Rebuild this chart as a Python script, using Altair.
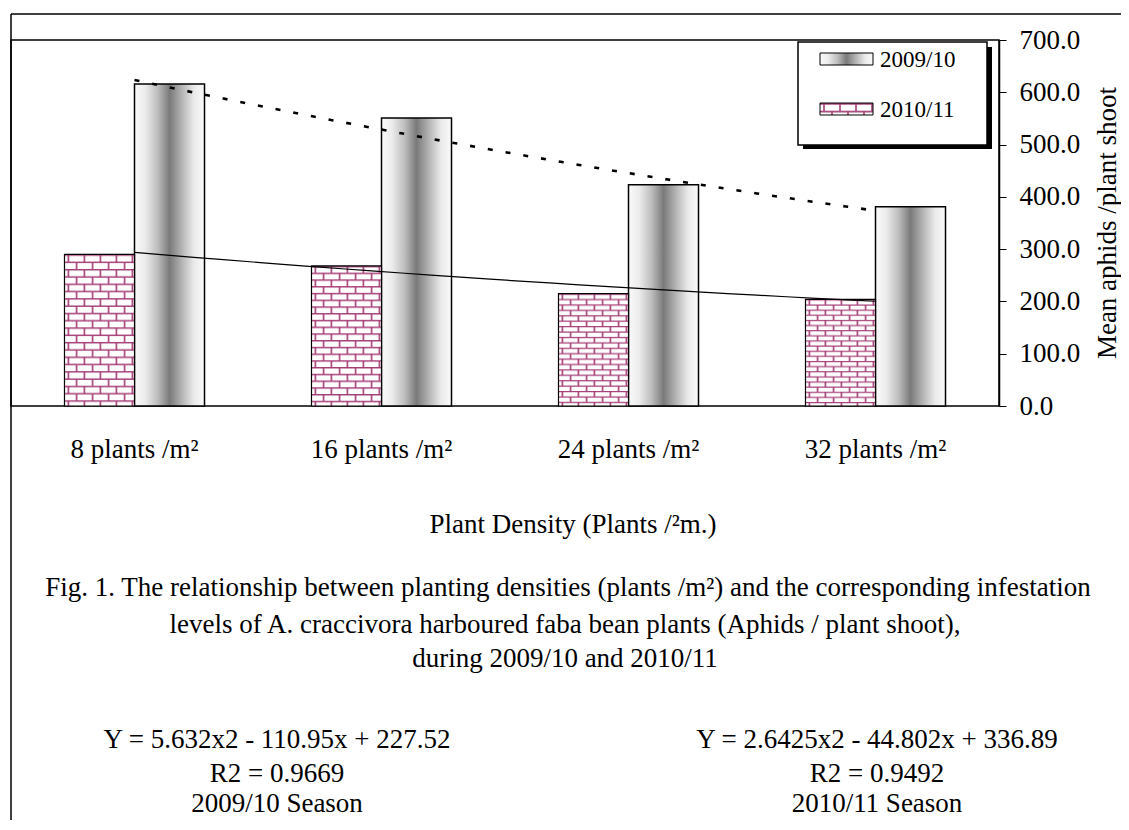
import base64
import altair as alt
import pandas as pd

# ---- data ----
categories = ["8 plants /m²", "16 plants /m²", "24 plants /m²", "32 plants /m²"]
season_2009 = [616, 551, 423, 381]
season_2010 = [290, 268, 215, 204]
seasons = ["2010/11", "2009/10"]
y_ticks = [0, 100, 200, 300, 400, 500, 600, 700]

x_title = "Plant Density (Plants /²m.)"
y_title = "Mean aphids /plant shoot"
caption = [
    "Fig. 1. The relationship between planting densities (plants /m²) and the corresponding infestation",
    "levels of A. craccivora harboured faba bean plants (Aphids / plant shoot),",
    "during 2009/10 and 2010/11",
]
eq_left = ["Y = 5.632x2 - 110.95x + 227.52", "R2 = 0.9669", "2009/10 Season"]
eq_right = ["Y = 2.6425x2 - 44.802x + 336.89", "R2 = 0.9492", "2010/11 Season"]

rows = []
for i, c in enumerate(categories):
    rows.append({"category": c, "idx": i + 1, "season": "2009/10", "value": season_2009[i]})
    rows.append({"category": c, "idx": i + 1, "season": "2010/11", "value": season_2010[i]})
df = pd.DataFrame(rows)
one = pd.DataFrame({"k": [0]})

FONT = "Liberation Serif"
FS = 27
BRICK = "#a63d76"


def brick_uri(w, h):
    svg = (
        f'<svg xmlns="http://www.w3.org/2000/svg" width="{w}" height="{h}">'
        '<defs><pattern id="b" width="16" height="15.4" patternUnits="userSpaceOnUse">'
        '<rect width="16" height="15.4" fill="#ffffff"/>'
        f'<path d="M0 0.8H16M0 8.5H16M4 0.8V8.5M12 8.5V15.4" stroke="{BRICK}" '
        'stroke-width="1.6" fill="none"/></pattern></defs>'
        '<rect width="100%" height="100%" fill="url(#b)"/></svg>'
    )
    return "data:image/svg+xml;base64," + base64.b64encode(svg.encode()).decode()


grey_grad = alt.Gradient(
    gradient="linear", x1=0, x2=1, y1=0, y2=0,
    stops=[
        alt.GradientStop(offset=0, color="#fafafa"),
        alt.GradientStop(offset=0.15, color="#ececec"),
        alt.GradientStop(offset=0.33, color="#bdbdbd"),
        alt.GradientStop(offset=0.5, color="#7a7a7a"),
        alt.GradientStop(offset=0.68, color="#b5b5b5"),
        alt.GradientStop(offset=0.85, color="#eaeaea"),
        alt.GradientStop(offset=1, color="#fafafa"),
    ],
)

x_enc = alt.X(
    "category:N", sort=categories, title=None,
    scale=alt.Scale(paddingInner=0, paddingOuter=0),
    axis=alt.Axis(labelAngle=0, domain=False, ticks=False, labelPadding=30,
                  labelFont=FONT, labelFontSize=FS, labelColor="black"),
)
xo_enc = alt.XOffset("season:N", scale=alt.Scale(domain=seasons, paddingInner=0, paddingOuter=0.764))
y_enc = alt.Y(
    "value:Q", title=None,
    scale=alt.Scale(domain=[0, 700], nice=False),
    axis=alt.Axis(orient="right", values=y_ticks, format=".1f", grid=False,
                  tickSize=7, tickColor="black", domainColor="black", domainWidth=1.5,
                  labelPadding=13, labelFont=FONT, labelFontSize=FS, labelColor="black"),
)

base = alt.Chart(df)
grey_bars = base.transform_filter(alt.datum.season == "2009/10").mark_bar(
    fill=grey_grad, stroke="black", strokeWidth=1.5
).encode(x=x_enc, xOffset=xo_enc, y=y_enc)

pink_img = base.transform_filter(alt.datum.season == "2010/11").mark_image(aspect=False).encode(
    x=x_enc, xOffset=xo_enc, y=y_enc, y2=alt.datum(0), url=alt.value(brick_uri(70, 160))
)
pink_outline = base.transform_filter(alt.datum.season == "2010/11").mark_bar(
    fill="white", fillOpacity=0, stroke="black", strokeWidth=1.2
).encode(x=x_enc, xOffset=xo_enc, y=y_enc)

bars = alt.layer(grey_bars, pink_img, pink_outline)

xq = alt.X("idx:Q", scale=alt.Scale(domain=[0.5, 4.5], nice=False, zero=False), axis=None)
trend_2009 = base.transform_filter(alt.datum.season == "2009/10").transform_regression(
    "idx", "value", method="poly", order=2
).mark_line(color="black", strokeWidth=2.6, strokeDash=[5, 13]).encode(x=xq, y=y_enc)
trend_2010 = base.transform_filter(alt.datum.season == "2010/11").transform_regression(
    "idx", "value", method="poly", order=2
).mark_line(color="black", strokeWidth=1.2).encode(x=xq, y=y_enc)

lines = alt.layer(trend_2009, trend_2010)

deco = alt.Chart(one)


def box(x, x2, y, y2, **kw):
    return deco.mark_rect(**kw).encode(
        x=alt.value(x), x2=alt.value(x2), y=alt.value(y), y2=alt.value(y2)
    )


def txt(s, x, y, size=FS, align="center", baseline="alphabetic", angle=0):
    return deco.mark_text(font=FONT, fontSize=size, color="black", align=align,
                          baseline=baseline, angle=angle).encode(
        x=alt.value(x), y=alt.value(y), text=alt.value(s))


legend = [
    box(792, 981, 7, 109, fill="black"),
    box(787, 976, 2, 105, fill="white", stroke="black", strokeWidth=1.5),
    box(809, 862, 13, 25, fill=grey_grad, stroke="black", strokeWidth=1),
    deco.mark_image(aspect=False).encode(
        x=alt.value(809), x2=alt.value(862), y=alt.value(63), y2=alt.value(75),
        url=alt.value(brick_uri(53, 12))),
    box(809, 862, 63, 75, fill="white", fillOpacity=0, stroke="black", strokeWidth=1),
    txt(seasons[1], 869, 20, size=23, align="left", baseline="middle"),
    txt(seasons[0], 869, 70, size=23, align="left", baseline="middle"),
]

texts = [
    txt(y_title, 1097, 183, angle=270, baseline="middle"),
    txt(x_title, 562, 493),
    txt(caption[0], 557, 556),
    txt(caption[1], 554, 593),
    txt(caption[2], 554, 627),
]
for k, base_y in enumerate([708, 742, 772]):
    texts.append(txt(eq_left[k], 266, base_y))
    texts.append(txt(eq_right[k], 866, base_y))

frame = [
    deco.mark_rule(color="black", strokeWidth=1.5).encode(
        x=alt.value(0), x2=alt.value(1110), y=alt.value(-26)),
    deco.mark_rule(color="black", strokeWidth=1.5).encode(
        x=alt.value(0), y=alt.value(-26), y2=alt.value(780)),
]

chart = alt.layer(
    bars, lines, *legend, *texts, *frame
).resolve_scale(x="independent").properties(
    width=988, height=366,
    autosize=alt.AutoSizeParams(type="none"),
    padding={"left": 3, "top": 32, "right": 122, "bottom": 416},
).configure_view(stroke="black", strokeWidth=1.5)

chart.save("out.html", embed_options={"renderer": "svg", "actions": False})
